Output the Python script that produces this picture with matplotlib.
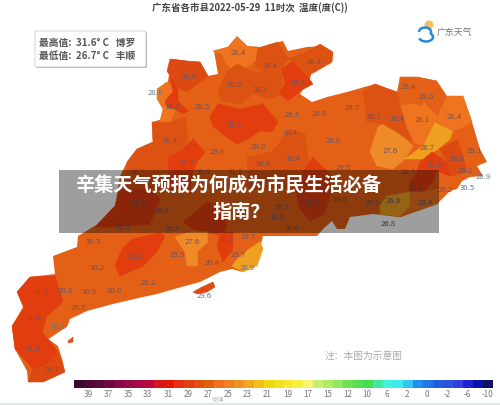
import matplotlib
matplotlib.use('Agg')
import matplotlib.pyplot as plt
from matplotlib.patches import Polygon, Rectangle, FancyBboxPatch, Circle, Arc

plt.rcParams['font.family'] = ['Noto Sans CJK SC', 'DejaVu Sans']

# map outline
province = [(172, 60), (187, 62), (200, 63), (208, 77), (218, 75), (214, 52), (228, 48), (237, 37), (247, 47),
            (260, 48), (270, 45), (283, 42), (288, 52), (307, 48), (323, 47), (333, 55), (330, 65), (313, 68),
            (310, 80), (300, 95), (312, 103), (327, 98), (347, 93), (375, 85), (397, 93), (400, 78), (417, 78),
            (437, 82), (447, 97), (463, 97), (472, 123), (480, 150), (487, 163), (477, 167), (483, 177),
            (470, 178), (462, 182), (457, 190), (450, 192), (445, 197), (437, 205), (417, 212), (400, 218),
            (373, 215), (350, 218), (345, 230), (337, 230), (332, 222), (323, 230), (317, 237), (278, 237),
            (263, 237), (258, 257), (242, 273), (232, 270), (220, 273), (200, 283), (185, 287), (157, 295),
            (143, 298), (113, 305), (87, 312), (70, 320), (67, 328), (47, 333), (48, 340), (58, 347), (63, 363),
            (65, 373), (43, 383), (28, 383), (27, 372), (15, 350), (12, 327), (23, 308), (17, 293), (30, 278),
            (55, 275), (53, 257), (77, 248), (78, 237), (98, 225), (115, 207), (120, 177), (127, 163), (137, 150),
            (153, 143), (152, 123), (163, 120), (167, 110), (160, 103), (167, 87)]
province_value = 29.8

# county blocks
region_values = [28.4, 30.9, 28.8, 31.1, 30.0, 30.2, 30.4, 31.3, 30.4, 31.2, 29.0, 31.0, 30.4, 30.6, 29.0, 31.3,
                 27.6, 26.7, 28.1, 28.4, 29.4, 30.4, 30.8, 31.0, 31.0, 26.9, 28.4, 31.5, 31.1, 31.1, 31.5,
                 30.7, 31.0, 27.6, 31.1, 26.9, 29.7, 29.0, 30.8, 30.5]
region_polys = [
    [(213, 52), (228, 48), (237, 38), (247, 47), (258, 50), (255, 62), (247, 68), (233, 72), (225, 63), (222, 55)],
    [(170, 60), (187, 62), (200, 63), (208, 77), (200, 83), (187, 93), (177, 88), (170, 77), (167, 72)],
    [(157, 90), (167, 83), (175, 92), (165, 100), (175, 113), (170, 123), (160, 122), (163, 110), (157, 100)],
    [(165, 102), (173, 93), (170, 78), (178, 88), (178, 102), (188, 112), (183, 115), (175, 110), (167, 108)],
    [(218, 93), (227, 73), (237, 65), (253, 73), (253, 95), (240, 105), (222, 102)],
    [(253, 73), (263, 73), (283, 67), (282, 80), (283, 93), (270, 100), (253, 95)],
    [(258, 50), (278, 43), (288, 60), (283, 67), (263, 73), (255, 67)],
    [(282, 70), (293, 62), (307, 77), (313, 85), (300, 92), (288, 102), (280, 95), (285, 85)],
    [(288, 60), (307, 53), (320, 45), (333, 53), (332, 63), (315, 73), (307, 77), (293, 62)],
    [(210, 118), (218, 105), (240, 110), (263, 105), (278, 123), (272, 133), (260, 132), (248, 140), (237, 145),
     (225, 137), (213, 127)],
    [(248, 143), (263, 132), (273, 140), (272, 153), (253, 157)],
    [(168, 158), (183, 150), (193, 140), (205, 153), (197, 163), (193, 173), (190, 190), (168, 190)],
    [(152, 123), (165, 125), (185, 118), (188, 140), (183, 150), (168, 158), (168, 190), (125, 190), (127, 163),
     (137, 150), (153, 143)],
    [(247, 158), (272, 153), (290, 130), (305, 135), (310, 170), (295, 190), (250, 190)],
    [(308, 145), (320, 130), (340, 127), (360, 130), (360, 165), (323, 165)],
    [(295, 190), (305, 170), (313, 158), (330, 175), (330, 195), (325, 215), (310, 222), (300, 210)],
    [(370, 153), (378, 128), (383, 125), (397, 133), (413, 147), (405, 160), (393, 170), (377, 167)],
    [(405, 160), (423, 147), (435, 123), (453, 132), (450, 140), (438, 150), (423, 160)],
    [(400, 107), (423, 103), (438, 117), (433, 125), (423, 147), (413, 143), (407, 130)],
    [(438, 117), (447, 97), (463, 97), (472, 123), (463, 128), (453, 132), (435, 123)],
    [(400, 78), (417, 78), (437, 82), (430, 97), (420, 107), (400, 97)],
    [(363, 93), (375, 85), (397, 93), (400, 107), (407, 130), (413, 143), (397, 133), (383, 125), (367, 123)],
    [(440, 150), (457, 140), (463, 157), (467, 173), (450, 177), (447, 163)],
    [(420, 163), (432, 153), (447, 163), (450, 177), (437, 172), (417, 173)],
    [(410, 183), (417, 173), (437, 172), (433, 183), (423, 193), (410, 193)],
    [(380, 207), (387, 197), (410, 193), (410, 207), (400, 218), (380, 215)],
    [(410, 193), (423, 193), (440, 190), (437, 205), (417, 212), (400, 218), (410, 207)],
    [(120, 190), (150, 190), (160, 200), (150, 225), (115, 228), (95, 228), (115, 207)],
    [(183, 223), (207, 203), (223, 207), (227, 227), (223, 237), (193, 230)],
    [(17, 293), (30, 278), (55, 277), (63, 303), (47, 317), (25, 310)],
    [(12, 327), (25, 308), (47, 317), (42, 333), (48, 340), (58, 353), (45, 367), (33, 370), (15, 350)],
    [(33, 370), (45, 367), (58, 353), (65, 373), (43, 383), (28, 383)],
    [(115, 267), (122, 250), (132, 240), (160, 234), (165, 237), (157, 253), (143, 267), (120, 277)],
    [(175, 238), (190, 233), (207, 233), (208, 243), (197, 253), (198, 267), (187, 267), (185, 253)],
    [(217, 247), (220, 235), (233, 233), (233, 250), (223, 263)],
    [(232, 267), (240, 257), (248, 250), (260, 242), (263, 250), (257, 267), (243, 273)],
    [(240, 257), (248, 233), (263, 233), (260, 242), (248, 250)],
    [(45, 333), (58, 325), (66, 328), (48, 340)],
    [(193, 293), (202, 288), (213, 283), (215, 288), (207, 293), (197, 295)],
    [(68, 342), (73, 338), (73, 343), (68, 344)],
]

label_text = ['28.4', '30.9', '28.8', '31.1', '29.5', '30.0', '30.2', '30.4', '30.4', '31.3', '31.2', '30.4',
              '31.0', '29.8', '29.0', '30.6', '29.8', '29.8', '30.4', '29.0', '30.4', '29.5',
              '29.7', '30.1', '30.4', '29.4', '29.0', '28.1', '28.4', '27.6', '26.7', '31.0', '30.8', '29.1',
              '28.3', '28.2', '28.9', '30.5', '29.2', '28.4', '28.4', '26.9', '29.5', '29.9', '31.3', '30.3',
              '30.6', '28.6', '26.8', '30.7', '30.9', '31.3', '31.5', '30.8', '31.5', '30.9', '31.1',
              '30.3', '31.0', '27.6', '29.5', '31.1', '29.7', '29.7', '30.4', '26.9', '30.2', '29.2', '30.8',
              '30.9', '30.0', '31.1', '29.3', '31.4', '31.5', '30.7', '29.6', '30.1']
label_x = [238, 189, 155, 173, 202, 234, 260, 270, 314, 298, 234, 170,
           186, 217, 258, 263, 292, 319, 290, 333, 293, 343,
           352, 374, 397, 408, 426, 422, 454, 390, 427, 435, 457, 474,
           408, 465, 483, 467, 445, 415, 425, 393, 372, 340, 312, 282,
           292, 277, 388, 138, 203, 235, 138, 162, 123, 172, 207,
           93, 135, 192, 177, 227, 248, 238, 212, 247, 97, 148, 65,
           89, 114, 41, 78, 33, 33, 52, 204, 58]
label_y = [53, 77, 93, 107, 107, 85, 90, 66, 62, 83, 125, 141,
           162, 152, 147, 164, 115, 114, 133, 141, 159, 168,
           108, 117, 119, 87, 97, 120, 117, 151, 148, 165, 159, 151,
           172, 171, 177, 188, 190, 188, 203, 201, 203, 200, 203, 207,
           228, 217, 224, 172, 172, 172, 203, 211, 227, 229, 228,
           242, 257, 242, 255, 240, 237, 255, 263, 268, 268, 283, 291,
           292, 291, 292, 308, 318, 349, 370, 296, 327]
edge_labels = [(155, 93), (483, 177), (467, 188), (247, 268), (204, 296), (58, 327)]

# colour bar
bar_colors = ['#3a0a2e', '#4a0a35', '#5a0a3c', '#6e0a42', '#820a48', '#960a4a', '#a80a48', '#b80a40', '#d01818',
              '#e01808', '#e83010', '#e04010', '#e05010', '#e06010', '#f07020', '#f08020', '#f09020', '#f0a820',
              '#f0c020', '#f0d810', '#f0e020', '#f8e830', '#f8f040', '#f8f870', '#c8f070', '#a8f060', '#90e860',
              '#70e050', '#50e050', '#40e050', '#40e8a0', '#40f0e0', '#40e8f0', '#30c8f0', '#2090f0', '#2078e8',
              '#2060e0', '#3050e0', '#3040e0', '#2020d0', '#1010b0', '#101060']
bar_labels = ['39', '37', '35', '33', '31', '29', '27', '25', '23', '21', '19', '17', '15', '12', '10', '6', '2', '0',
              '-2', '-6', '-10']
bar_label_cells = [1, 3, 5, 7, 9, 11, 13, 15, 17, 19, 21, 23, 25, 27, 29, 31, 33, 35, 37, 39, 41]


def temp_color(v):
    if v < 27:
        return '#f0a020'
    if v < 28:
        return '#ee8a28'
    if v < 29:
        return '#ef7420'
    if v < 30:
        return '#e46016'
    if v < 30.7:
        return '#dc5212'
    if v < 31:
        return '#dc4a12'
    return '#e13d0f'


fig = plt.figure(figsize=(5, 4.06), dpi=100)
ax = fig.add_axes([0, 0, 1, 1])
ax.set_xlim(0, 500)
ax.set_ylim(406, 0)
ax.axis('off')

ax.add_patch(Polygon(province, closed=True, fc=temp_color(province_value), ec='none', zorder=1))
for v, poly in zip(region_values, region_polys):
    ax.add_patch(Polygon(poly, closed=True, fc=temp_color(v), ec=temp_color(v), lw=0.4, zorder=2))

for t, x, y in zip(label_text, label_x, label_y):
    col = '#5f7a90' if (x, y) in edge_labels else '#6a5560'
    ax.text(x, y, t, fontsize=5.6, color=col, ha='center', va='center', zorder=3)

# title, box, logo
ax.text(250, 8, '广东省各市县2022-05-29  11时次  温度(度(C))', fontsize=6.8, color='#444444', weight='bold',
        ha='center', va='center')
ax.add_patch(FancyBboxPatch((36, 33), 111, 36, boxstyle='round,pad=0,rounding_size=1.5', fc='#b0b0b0', ec='none',
                            zorder=4))
ax.add_patch(FancyBboxPatch((35, 32), 111, 36, boxstyle='round,pad=0,rounding_size=1.5', fc='white', ec='#cccccc',
                            lw=0.6, zorder=5))
ax.text(39, 43, '最高值:  31.6° C   博罗', fontsize=7, color='#555555', weight='bold', va='center', zorder=6)
ax.text(39, 56, '最低值:  26.7° C   丰顺', fontsize=7, color='#555555', weight='bold', va='center', zorder=6)

ax.add_patch(Circle((429, 26), 4.5, fc='#f5c060', ec='none'))
ax.add_patch(Arc((425, 33), 12, 9, theta1=180, theta2=20, color='#2a8ad8', lw=1.8))
ax.add_patch(Arc((426, 38), 14, 9, theta1=320, theta2=170, color='#2a8ad8', lw=1.8))
ax.text(437, 32, '广东天气', fontsize=6.4, color='#777777', va='center')
ax.text(325, 356, '注：本图为示意图', fontsize=7, color='#aaaaaa', va='center')

# colour bar from the list
cell_w = (493 - 74) / len(bar_colors)
for i, c in enumerate(bar_colors):
    ax.add_patch(Rectangle((74 + i * cell_w, 381), cell_w + 0.2, 8, fc=c, ec='none'))
for t, i in zip(bar_labels, bar_label_cells):
    ax.text(74 + (i + 0.4) * cell_w, 395, t, fontsize=5.8, color='#777777', ha='center', va='center')
ax.text(218, 400, '微博', fontsize=4.5, color='#999999', alpha=0.6, ha='center', va='center')
ax.add_patch(Rectangle((0, 404), 500, 2, fc='#dde8e8', ec='none'))

# headline banner
ax.add_patch(Rectangle((59, 171), 380, 63, fc='black', alpha=0.38, ec='none', zorder=7))
ax.text(75, 186, '辛集天气预报为何成为市民生活必备', fontsize=13.8, color='white', weight='bold', ha='left',
        va='center', zorder=8)
ax.text(213, 213, '指南？', fontsize=13.8, color='white', weight='bold', ha='left', va='center', zorder=8)

fig.savefig('out.png', dpi=100)
